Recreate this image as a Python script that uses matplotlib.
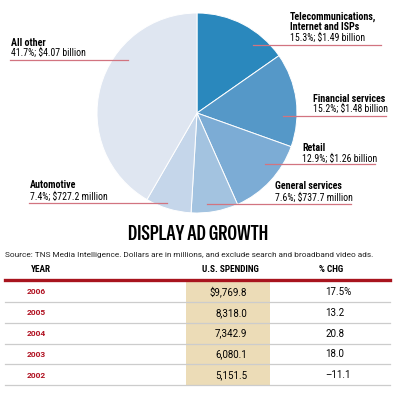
import matplotlib
matplotlib.use("Agg")
import matplotlib.pyplot as plt
from matplotlib import font_manager

W, H = 398, 400

# pie data (clockwise from 12 o'clock)
segments = ["Telecommunications,\nInternet and ISPs", "Financial services", "Retail",
            "General services", "Automotive", "All other"]
shares = [15.3, 15.2, 12.9, 7.6, 7.4, 41.7]
amounts = ["$1.49 billion", "$1.48 billion", "$1.26 billion",
           "$737.7 million", "$727.2 million", "$4.07 billion"]
colors = ["#2a88bd", "#5598c8", "#7cacd5", "#a3c3e0", "#c5d6ea", "#dfe6f1"]

# table data
years = ["2006", "2005", "2004", "2003", "2002"]
spending = ["$9,769.8", "8,318.0", "7,342.9", "6,080.1", "5,151.5"]
pct_chg = ["17.5%", "13.2", "20.8", "18.0", "\u201311.1"]

fonts = font_manager.fontManager.ttflist


def pick(prefs, minw, default):
    for p in prefs:
        if any(f.name == p and f.weight >= minw for f in fonts):
            return p
    return default


REG = pick(["Roboto Condensed", "Archivo Narrow", "Sofia Sans Condensed",
            "Saira SemiCondensed"], 0, "Liberation Sans")
BOLD = pick(["Roboto Condensed", "Archivo Narrow", "Sofia Sans Condensed",
             "Saira SemiCondensed"], 700, "Liberation Sans")
TITLE = pick(["Special Gothic Condensed One", "Saira ExtraCondensed"], 0, "Liberation Sans")
WIDE = pick(["Roboto", "Liberation Sans"], 0, "DejaVu Sans")
plt.rcParams['font.family'] = [REG, 'DejaVu Sans']

fig = plt.figure(figsize=(W / 100, H / 100), dpi=100)
renderer = fig.canvas.get_renderer()


def fx(x):
    return x / W


def fy(y):
    return 1 - y / H


def fam(weight):
    if weight == "normal":
        return [REG, "DejaVu Sans"]
    return [BOLD, "DejaVu Sans"]


def fit_size(s, width, weight="normal", family=None):
    # font size that makes string s about `width` pixels wide
    t = fig.text(0, 0, s, fontsize=10, fontweight=weight, family=family or fam(weight))
    w = t.get_window_extent(renderer).width
    t.remove()
    return 10 * width / w


def put(x, y, s, size, weight="normal", family=None, **kw):
    return fig.text(fx(x), fy(y), s, fontsize=size, fontweight=weight,
                    family=family or fam(weight), va="center", **kw)


bold_sz = fit_size("Financial services", 72, "bold")
norm_sz = fit_size("15.3%; $1.49 billion", 75)

# pie
ax = fig.add_axes([fx(96), fy(214), 202 / W, 202 / H])
ax.pie(shares, colors=colors, startangle=90, counterclock=False,
       wedgeprops=dict(edgecolor="white", linewidth=0.7))
ax.set_xlim(-1.01, 1.01)
ax.set_ylim(-1.01, 1.01)
ax.set_aspect("equal")
ax.axis("off")

# label positions: text x, bold y, value y, rule y, rule x0, x1
label_pos = [(290, 21.5, 38, 45, 253, 381), (313, 99, 109, 116, 283, 386),
             (302, 148, 159, 164, 265, 375), (275, 186, 198, 204, 207, 351),
             (30, 185, 197, 203, 29, 167), (11, 43, 53, 60, 10, 128)]
for name, share, amt, (tx, yb, yv, yl, x0, x1) in zip(segments, shares, amounts, label_pos):
    put(tx, yb, name, bold_sz, "bold", ha="left", linespacing=1.0)
    put(tx, yv, f"{share}%; {amt}", norm_sz, ha="left")
    fig.add_artist(plt.Line2D([fx(x0), fx(x1)], [fy(yl), fy(yl)],
                              color="#d27480", lw=0.9))

# title and source
title_fam = [TITLE, "DejaVu Sans"]
put(198, 234, "DISPLAY AD GROWTH",
    fit_size("DISPLAY AD GROWTH", 140, "heavy", title_fam), "heavy", title_fam,
    ha="center")
wide_fam = [WIDE, "DejaVu Sans"]
src = ("Source: TNS Media Intelligence. Dollars are in millions, "
       "and exclude search and broadband video ads.")
put(5, 255, src, fit_size(src, 371, family=wide_fam), family=wide_fam,
    ha="left", color="#222222")

# table header
hdr_sz = fit_size("YEAR", 20, "bold")
put(31, 270, "YEAR", hdr_sz, "bold", ha="left")
put(230, 270, "U.S. SPENDING", hdr_sz, "bold", ha="center")
put(331, 270, "% CHG", hdr_sz, "bold", ha="center")

# tan band and red rule
fig.add_artist(plt.Rectangle((fx(186), fy(385)), 84 / W, 103 / H,
                             facecolor="#ecdcb7", edgecolor="none"))
fig.add_artist(plt.Line2D([fx(5), fx(390)], [fy(280), fy(280)], color="#a8141e", lw=2.4))

yr_sz = fit_size("2006", 19, "bold", wide_fam)
val_sz = fit_size("$9,769.8", 37, family=wide_fam)
row_h = 20.8
for i, (yr, sp, pc) in enumerate(zip(years, spending, pct_chg)):
    yc = 292 + i * row_h
    put(27, yc, yr, yr_sz, "bold", wide_fam, color="#b01020", ha="left")
    put(247, yc, sp, val_sz, family=wide_fam, ha="right")
    put(325, yc, pc, val_sz, family=wide_fam, ha="left")
    yl = yc + 10
    fig.add_artist(plt.Line2D([fx(5), fx(390)], [fy(yl), fy(yl)], color="#cccccc", lw=0.9))

fig.savefig("out.png", dpi=100)
